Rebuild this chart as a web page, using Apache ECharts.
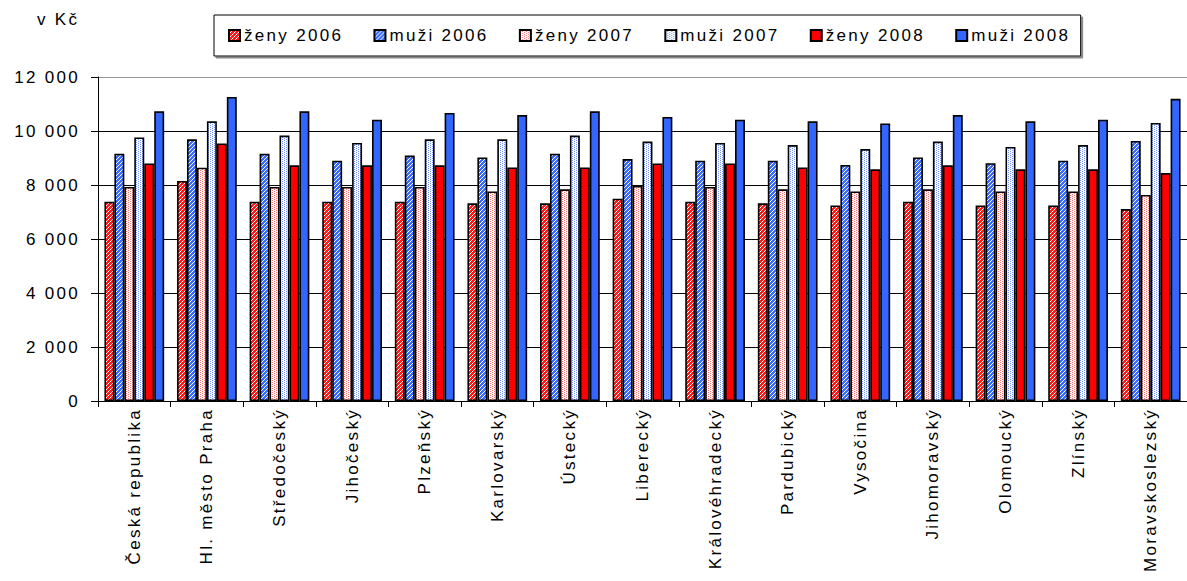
<!DOCTYPE html>
<html><head><meta charset="utf-8">
<script src="https://cdn.jsdelivr.net/npm/echarts@6/dist/echarts.min.js"></script>
<style>
html,body{margin:0;padding:0;background:#fff}
#c{width:1187px;height:581px}
#c text{letter-spacing:2.3px}
</style>
</head><body><div id="c"></div>
<script>
const categories = ['Česká republika','Hl. město Praha','Středočeský','Jihočeský','Plzeňský','Karlovarský','Ústecký','Liberecký','Královéhradecký','Pardubický','Vysočina','Jihomoravský','Olomoucký','Zlínský','Moravskoslezský'];
const seriesNames = ['ženy 2006','muži 2006','ženy 2007','muži 2007','ženy 2008','muži 2008'];
const zeny2006 = [7380, 8150, 7380, 7380, 7380, 7320, 7320, 7490, 7380, 7320, 7240, 7380, 7240, 7240, 7110];
const muzi2006 = [9160, 9690, 9160, 8900, 9090, 9020, 9160, 8960, 8900, 8900, 8740, 9020, 8810, 8900, 9630];
const zeny2007 = [7930, 8640, 7930, 7930, 7930, 7760, 7840, 7970, 7930, 7840, 7760, 7840, 7760, 7760, 7630];
const muzi2007 = [9760, 10360, 9830, 9560, 9690, 9690, 9830, 9610, 9560, 9480, 9330, 9610, 9410, 9480, 10300];
const zeny2008 = [8800, 9540, 8730, 8730, 8730, 8650, 8650, 8800, 8800, 8650, 8580, 8730, 8580, 8580, 8440];
const muzi2008 = [10730, 11260, 10730, 10420, 10670, 10590, 10730, 10520, 10420, 10360, 10280, 10590, 10360, 10420, 11190];
const yTicks = [0, 2000, 4000, 6000, 8000, 10000, 12000];

function pattern(color, type) {
  const c = document.createElement('canvas');
  c.width = 4; c.height = 4;
  const ctx = c.getContext('2d');
  ctx.fillStyle = '#ffffff'; ctx.fillRect(0, 0, 4, 4);
  ctx.fillStyle = color;
  for (let y = 0; y < 4; y++) for (let x = 0; x < 4; x++) {
    if (type === 'diag') { const m = (x + y) % 4; if (m !== 3) ctx.fillRect(x, y, 1, 1); }
    else { if ((x === 0 && (y === 0 || y === 2)) || (x === 2 && (y === 1 || y === 3))) ctx.fillRect(x, y, 1, 1); }
  }
  return { image: c.toDataURL(), repeat: 'repeat', imageWidth: 4, imageHeight: 4 };
}

const fills = [
  pattern('#ff1a1a', 'diag'),
  pattern('#3a6cff', 'diag'),
  pattern('#ff7070', 'dot'),
  pattern('#7090ff', 'dot'),
  '#ff0000',
  '#3366ff'
];
const dataSets = [zeny2006, muzi2006, zeny2007, muzi2007, zeny2008, muzi2008];
const font = 'Liberation Sans, Arial, sans-serif';

const chart = echarts.init(document.getElementById('c'), null, { renderer: 'svg' });
chart.setOption({
  animation: false,
  backgroundColor: '#fff',
  title: {
    text: 'v Kč', left: 37, top: 11, padding: 0,
    textStyle: { fontFamily: font, fontSize: 17, fontWeight: 'normal', color: '#000' }
  },
  legend: {
    left: 214, top: 15,
    padding: [12, 31, 12, 14],
    itemWidth: 11, itemHeight: 11, itemGap: 51,
    icon: 'rect',
    backgroundColor: '#fff',
    borderColor: '#000', borderWidth: 1,
    shadowColor: '#888', shadowOffsetX: 2, shadowOffsetY: 2, shadowBlur: 0,
    textStyle: { fontFamily: font, fontSize: 17, color: '#000', padding: [0, 0, 0, -1] },
    data: seriesNames
  },
  grid: { left: 98, top: 77, right: -10, bottom: 180, containLabel: false },
  xAxis: {
    type: 'category',
    data: categories,
    axisLine: { lineStyle: { color: '#000', width: 1 } },
    axisTick: { show: true, length: 6, lineStyle: { color: '#000' } },
    axisLabel: { rotate: 90, margin: 7, interval: 0, fontFamily: font, fontSize: 17, color: '#000' },
    splitLine: { show: false }
  },
  yAxis: {
    type: 'value', min: 0, max: 12000, interval: 2000,
    axisLine: { show: true, lineStyle: { color: '#000', width: 1 } },
    axisTick: { show: true, length: 7, lineStyle: { color: '#000' } },
    axisLabel: {
      margin: 18, fontFamily: font, fontSize: 17, color: '#000',
      formatter: v => String(v).replace(/\B(?=(\d{3})+(?!\d))/g, ' ')
    },
    splitLine: { show: true, lineStyle: { color: ['#000', '#000', '#000', '#000', '#000', '#000', '#999'], width: 1 } }
  },
  series: seriesNames.map((n, i) => ({
    name: n,
    type: 'bar',
    data: dataSets[i],
    barGap: '0%',
    barCategoryGap: '17.7%',
    itemStyle: { color: fills[i], borderColor: '#000', borderWidth: 1.6 }
  }))
});
</script>
</body></html>
